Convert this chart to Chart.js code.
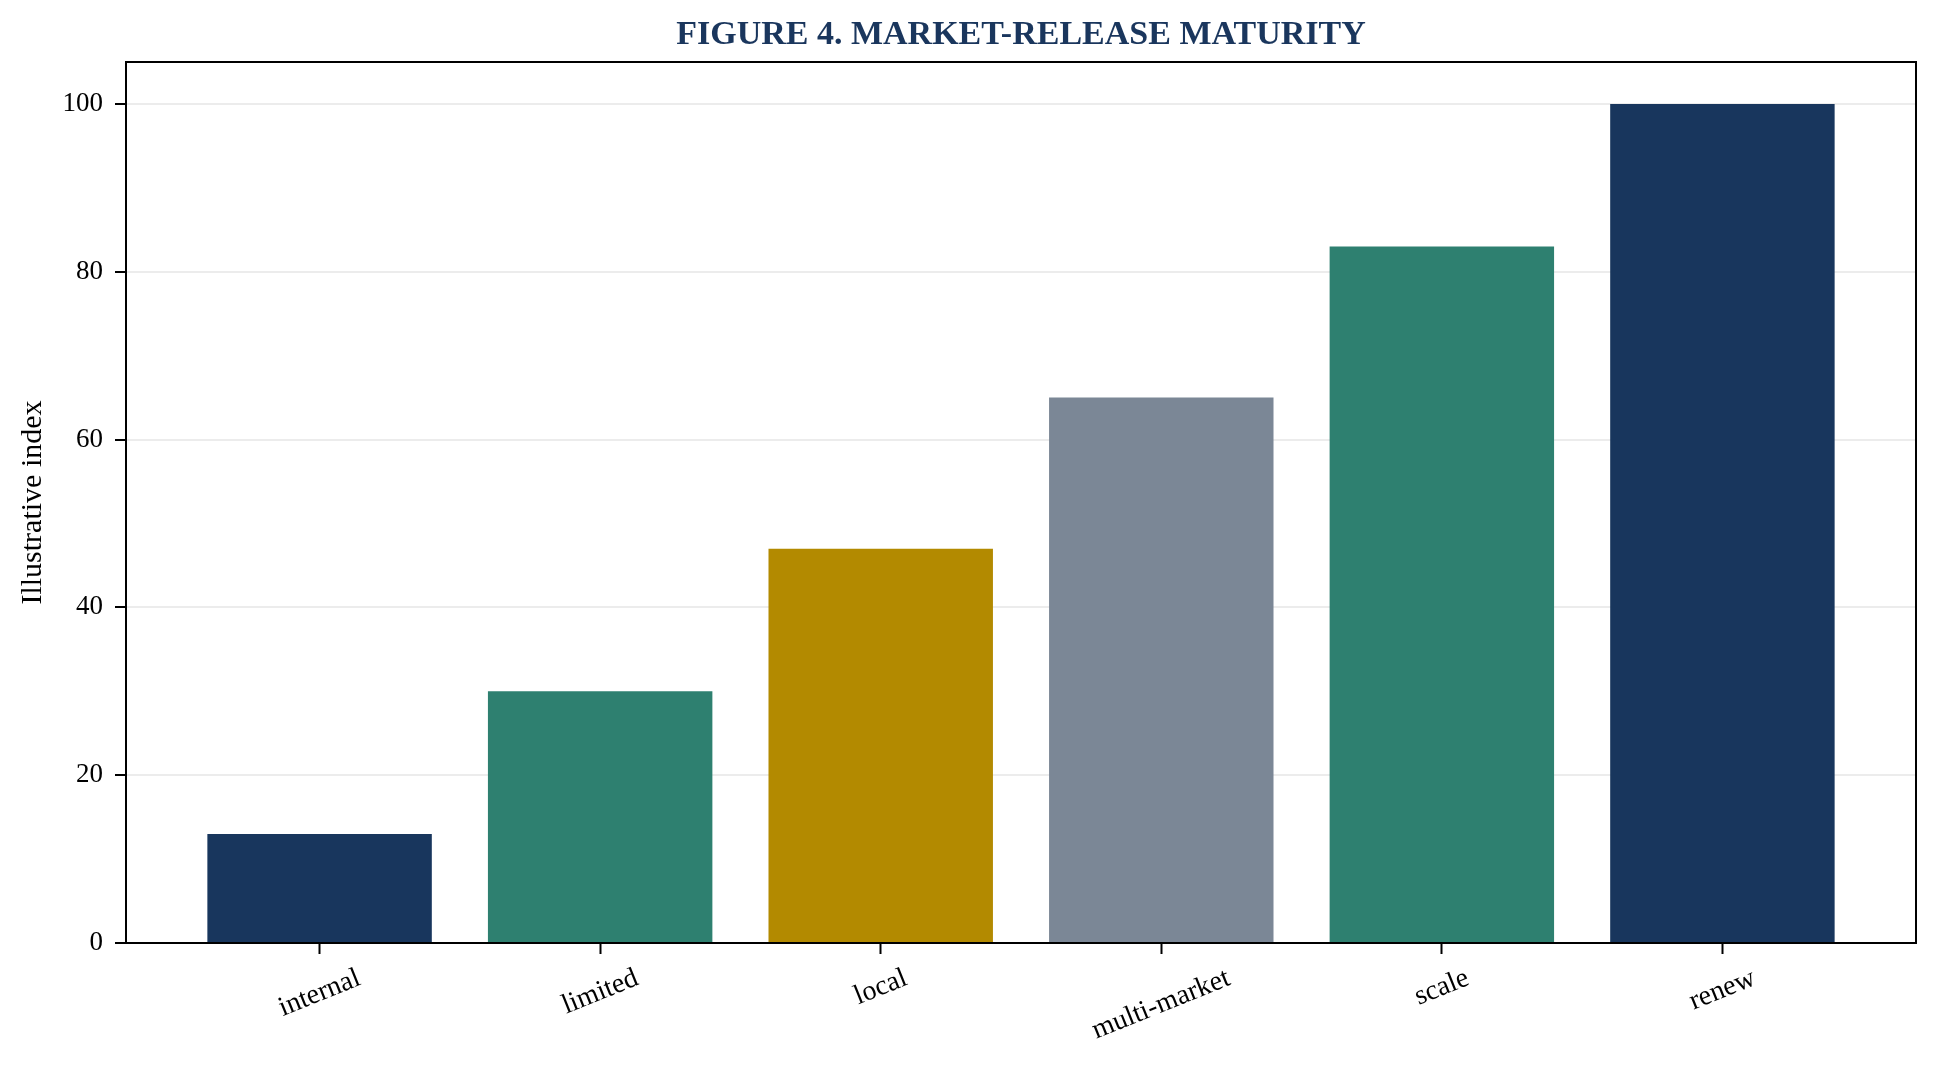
<!DOCTYPE html>
<html>
<head>
<meta charset="utf-8">
<script src="https://cdn.jsdelivr.net/npm/chart.js@4.4.1/dist/chart.umd.min.js"></script>
<style>
  html, body { margin: 0; padding: 0; background: #fff; }
  #wrap { width: 1938px; height: 1066px; }
</style>
</head>
<body>
<div id="wrap"><canvas id="chart"></canvas></div>
<script>
// chart data
const stages = ['internal', 'limited', 'local', 'multi-market', 'scale', 'renew'];
const indexValues = [13, 30, 47, 65, 83, 100];
const yTicks = [0, 20, 40, 60, 80, 100];
const barColors = ['#18365d', '#2e8070', '#b38a00', '#7b8796', '#2e8070', '#18365d'];

const FONT = '"Liberation Serif", "Times New Roman", serif';
const NAVY = '#1a365d';

// figure title, centred over the plot area
const titlePlugin = {
  id: 'figTitle',
  afterDraw(chart) {
    const { ctx, chartArea } = chart;
    ctx.save();
    ctx.font = 'bold 34px ' + FONT;
    ctx.fillStyle = NAVY;
    ctx.textAlign = 'center';
    ctx.textBaseline = 'middle';
    ctx.fillText('FIGURE 4. MARKET-RELEASE MATURITY', (chartArea.left + chartArea.right) / 2, 35);
    ctx.restore();
  }
};

// full box around the plot (top / right spines)
const framePlugin = {
  id: 'frame',
  afterDraw(chart) {
    const { ctx, chartArea } = chart;
    ctx.save();
    ctx.strokeStyle = '#000';
    ctx.lineWidth = 2;
    ctx.strokeRect(chartArea.left, chartArea.top, chartArea.right - chartArea.left, chartArea.bottom - chartArea.top);
    ctx.restore();
  }
};

// rotated category labels, centred under each tick
const xLabelPlugin = {
  id: 'xLabels',
  afterDraw(chart) {
    const { ctx } = chart;
    const xs = chart.scales.x;
    const angle = 22 * Math.PI / 180;
    const size = 28;
    const top = chart.chartArea.bottom + 11 + 9;
    ctx.save();
    ctx.font = size + 'px ' + FONT;
    ctx.fillStyle = '#000';
    ctx.textAlign = 'center';
    ctx.textBaseline = 'middle';
    stages.forEach((label, i) => {
      const w = ctx.measureText(label).width;
      const h = size * 1.1;
      const boxH = w * Math.sin(angle) + h * Math.cos(angle);
      const x = xs.getPixelForValue(i);
      const y = top + boxH / 2;
      ctx.save();
      ctx.translate(x, y);
      ctx.rotate(-angle);
      ctx.fillText(label, 0, 0);
      ctx.restore();
    });
    ctx.restore();
  }
};

new Chart(document.getElementById('chart'), {
  type: 'bar',
  data: {
    datasets: [{
      label: 'Illustrative index',
      data: indexValues.map((v, i) => ({ x: i, y: v })),
      backgroundColor: barColors,
      borderWidth: 0,
      barPercentage: 0.8,
      categoryPercentage: 1.0
    }]
  },
  options: {
    responsive: true,
    maintainAspectRatio: false,
    animation: false,
    devicePixelRatio: 1,
    layout: { padding: { left: 0, right: 22, top: 62, bottom: 0 } },
    plugins: {
      legend: { display: false },
      title: { display: false },
      tooltip: { enabled: false }
    },
    scales: {
      x: {
        type: 'linear',
        min: -0.69,
        max: 5.69,
        offset: false,
        afterFit: scale => { scale.height = 123; },
        grid: { offset: false, drawOnChartArea: false, drawTicks: true, tickLength: 11, tickColor: '#000', tickWidth: 2 },
        border: { display: true, color: '#000', width: 2 },
        ticks: {
          stepSize: 1,
          includeBounds: false,
          autoSkip: false,
          maxRotation: 0,
          callback: () => ''
        }
      },
      y: {
        min: 0,
        max: 105,
        z: 1,
        afterFit: scale => { scale.width = 126; },
        afterBuildTicks: scale => { scale.ticks = yTicks.map(v => ({ value: v })); },
        grid: { color: 'rgba(175,175,175,0.24)', lineWidth: 2, tickLength: 11, tickColor: '#000', tickWidth: 2 },
        border: { display: true, color: '#000', width: 2 },
        ticks: {
          padding: 12,
          color: '#000',
          font: { family: FONT, size: 27 }
        },
        title: {
          display: true,
          text: 'Illustrative index',
          color: '#000',
          font: { family: FONT, size: 30 },
          padding: { top: 15, bottom: 0 }
        }
      }
    }
  },
  plugins: [titlePlugin, framePlugin, xLabelPlugin]
});
</script>
</body>
</html>
